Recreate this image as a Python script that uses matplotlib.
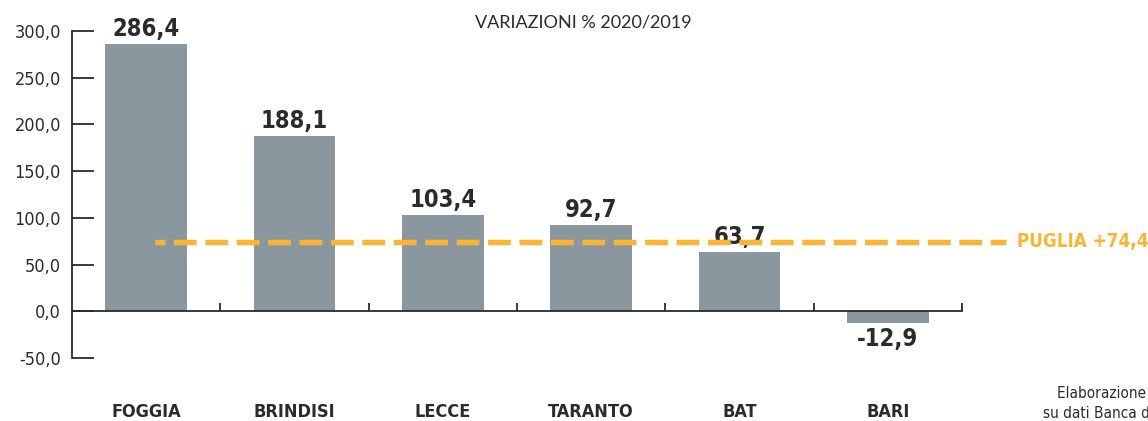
import matplotlib
matplotlib.use("Agg")
import matplotlib.pyplot as plt

# data
provinces = ["FOGGIA", "BRINDISI", "LECCE", "TARANTO", "BAT", "BARI"]
variation = [286.4, 188.1, 103.4, 92.7, 63.7, -12.9]
puglia = 74.4
yticks = [-50, 0, 50, 100, 150, 200, 250, 300]

BAR = "#8b979f"
ORANGE = "#fbb533"
DARK = "#2b2b2b"

plt.rcParams["font.family"] = ["DejaVu Sans"]
plt.rcParams["font.stretch"] = "condensed"

fig = plt.figure(figsize=(11.48, 4.21), dpi=100)
ax = fig.add_axes([72 / 1148, 1 - 358 / 421, (962 - 72) / 1148, (358 - 31) / 421])

x = list(range(len(provinces)))
ax.bar(x, variation, width=0.55, color=BAR, zorder=2)

for xi, v in zip(x, variation):
    if v >= 0:
        ax.text(xi, v + 3, f"{v:.1f}".replace(".", ","), ha="center", va="bottom",
                fontsize=17, fontweight="bold", color=DARK)
    else:
        ax.text(xi, v - 4, f"{v:.1f}".replace(".", ","), ha="center", va="top",
                fontsize=17, fontweight="bold", color=DARK)
    ax.text(xi, -98, provinces[xi], ha="center", va="top", fontsize=13,
            fontweight="bold", color=DARK, clip_on=False)

# regional average
ax.plot([0.06, 5.8], [puglia, puglia], color=ORANGE, lw=3.9,
        linestyle=(2.4, (4.2, 1.6)), clip_on=False, zorder=3,
        dash_capstyle="butt")
ax.text(5.87, puglia, "PUGLIA +" + f"{puglia:.1f}".replace(".", ","), ha="left",
        va="center", fontsize=13.5, fontweight="bold", color=ORANGE, clip_on=False)

ax.set_xlim(-0.5, 5.5)
ax.set_ylim(-50, 300)
ax.set_yticks(yticks)
ax.set_yticklabels([f"{t:.1f}".replace(".", ",") for t in yticks])
ax.tick_params(axis="y", direction="in", length=16, width=1.3, color=DARK,
               labelsize=13, labelcolor=DARK, pad=8)
ax.set_xticks([i + 0.5 for i in x])
ax.set_xticklabels([])
ax.tick_params(axis="x", direction="in", length=6, width=1.3, color=DARK)

for s in ["top", "right"]:
    ax.spines[s].set_visible(False)
ax.spines["bottom"].set_position(("data", 0))
ax.spines["bottom"].set_color(DARK)
ax.spines["bottom"].set_linewidth(1.3)
ax.spines["left"].set_color(DARK)
ax.spines["left"].set_linewidth(1.3)

fig.text(583 / 1148, 1 - 22 / 421, "VARIAZIONI % 2020/2019", ha="center",
         va="center", fontsize=13, color=DARK, family=["Lato", "DejaVu Sans"],
         stretch="normal")
# source note, cut by the right edge as in the original
fig.text(1057 / 1148, 1 - 393 / 421, "Elaborazione ANCE", ha="left",
         va="center", fontsize=11, color=DARK)
fig.text(1043 / 1148, 1 - 413 / 421, "su dati Banca d\u2019Italia", ha="left",
         va="center", fontsize=11, color=DARK)

fig.savefig("out.png", dpi=100)
